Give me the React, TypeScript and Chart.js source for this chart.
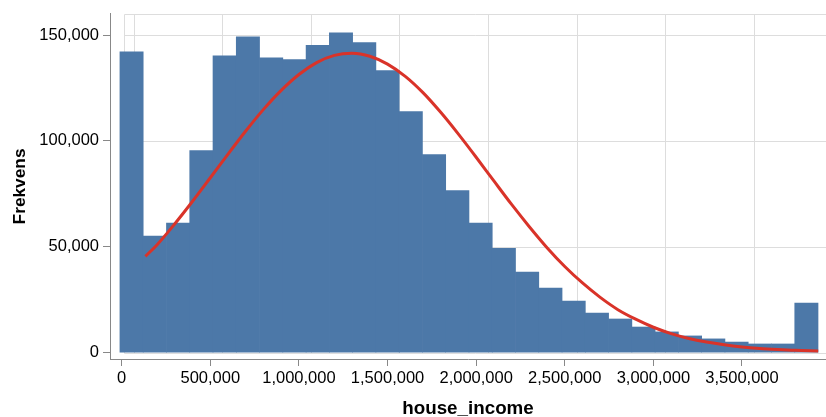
import React, { useEffect, useRef } from "react";
import { Chart, registerables } from "chart.js";

Chart.register(...registerables);

// Histogram bin edges (house_income) and counts (Frekvens)
const BIN_EDGES = [
  -10000, 121300, 252600, 383900, 515200, 646500, 777800, 909100, 1040400,
  1171700, 1303000, 1434300, 1565600, 1696900, 1828200, 1959500, 2090800,
  2222100, 2353400, 2484700, 2616000, 2747300, 2878600, 3009900, 3141200,
  3272500, 3403800, 3535100, 3666400, 3797700, 3929000,
];
const COUNTS = [
  142100, 55000, 61200, 95500, 140200, 149200, 139300, 138400, 145100, 151100,
  146400, 133200, 113900, 93600, 76600, 61200, 49300, 38000, 30500, 24400,
  18700, 15900, 12100, 9800, 7900, 6500, 5000, 4100, 4100, 23400,
];

// Fitted normal curve
const CURVE_X = [
  134000, 200000, 300000, 400000, 500000, 600000, 700000, 800000, 900000,
  1000000, 1100000, 1200000, 1300000, 1400000, 1500000, 1600000, 1700000,
  1800000, 1900000, 2000000, 2100000, 2200000, 2300000, 2400000, 2500000,
  2600000, 2700000, 2800000, 2900000, 3000000, 3100000, 3200000, 3300000,
  3400000, 3500000, 3600000, 3700000, 3800000, 3930000,
];
const CURVE_Y = [
  45500, 51000, 60900, 71500, 82600, 93800, 104700, 114900, 123900, 131400,
  137000, 140400, 141400, 140000, 136300, 130500, 122800, 113500, 103200,
  92300, 81100, 70000, 59500, 49600, 40700, 32900, 26100, 20300, 15800, 12000,
  9000, 6700, 5000, 3700, 2700, 2000, 1500, 1100, 800,
];

const X_TICKS = [0, 500000, 1000000, 1500000, 2000000, 2500000, 3000000, 3500000];
const Y_TICKS = [0, 50000, 100000, 150000];

const X_TITLE = "house_income";
const Y_TITLE = "Frekvens";

const BAR_COLOR = "#4c78a8";
const LINE_COLOR = "#d93329";
const AXIS_COLOR = "#888888";
const GRID_COLOR = "#dddddd";
const FONT = "'Liberation Sans', Arial, sans-serif";

// grid of the reference is drawn shifted relative to the axis
const GRID_SHIFT = 67000;
const GRID_LEFT = 14700;

const offsetGrid = {
  id: "offsetGrid",
  beforeDatasetsDraw(chart: any) {
    const { ctx, chartArea, scales } = chart;
    const x = scales.x;
    const y = scales.y;
    const left = Math.round(x.getPixelForValue(GRID_LEFT)) + 0.5;
    const top = Math.round(y.getPixelForValue(160000)) + 0.5;
    const bottom = Math.round(y.getPixelForValue(0)) + 0.5;
    ctx.save();
    ctx.strokeStyle = GRID_COLOR;
    ctx.lineWidth = 1;
    ctx.beginPath();
    [...Y_TICKS, 160000].forEach((v) => {
      const py = Math.round(y.getPixelForValue(v)) + 0.5;
      ctx.moveTo(left, py);
      ctx.lineTo(chartArea.right, py);
    });
    const xs = [left, ...X_TICKS.map((v) => Math.round(x.getPixelForValue(v + GRID_SHIFT)) + 0.5)];
    xs.forEach((px) => {
      ctx.moveTo(px, top);
      ctx.lineTo(px, bottom);
    });
    ctx.stroke();
    ctx.restore();
  },
};

export default function App() {
  const ref = useRef<HTMLCanvasElement | null>(null);

  useEffect(() => {
    document.body.style.margin = "0";
    if (!ref.current) return;
    const barData = COUNTS.map((c, i) => ({
      x: (BIN_EDGES[i] + BIN_EDGES[i + 1]) / 2,
      y: c,
    }));
    const lineData = CURVE_X.map((x, i) => ({ x, y: CURVE_Y[i] }));

    const chart = new Chart(ref.current, {
      type: "bar",
      data: {
        datasets: [
          {
            type: "line",
            data: lineData,
            borderColor: LINE_COLOR,
            borderWidth: 3,
            pointRadius: 0,
            cubicInterpolationMode: "monotone",
            fill: false,
            order: 0,
          } as any,
          {
            type: "bar",
            data: barData,
            backgroundColor: BAR_COLOR,
            borderWidth: 0,
            barPercentage: 1,
            categoryPercentage: 1,
            order: 1,
          } as any,
        ],
      },
      options: {
        animation: false,
        responsive: true,
        maintainAspectRatio: false,
        layout: { padding: { top: 13, left: 0, right: 0, bottom: 0 } },
        plugins: {
          legend: { display: false },
          tooltip: { enabled: false },
        },
        scales: {
          x: {
            type: "linear",
            min: -66000,
            max: 3974000,
            offset: false,
            afterBuildTicks: (s: any) => {
              s.ticks = X_TICKS.map((v) => ({ value: v }));
            },
            afterFit: (s: any) => {
              s.height = 58;
            },
            grid: {
              display: true,
              offset: false,
              drawOnChartArea: false,
              drawTicks: true,
              tickLength: 7,
              tickColor: AXIS_COLOR,
            },
            border: { display: true, color: AXIS_COLOR, width: 1 },
            ticks: {
              color: "#000",
              padding: 3,
              maxRotation: 0,
              autoSkip: false,
              font: { family: FONT, size: 16.5 },
              callback: (v: any) => Number(v).toLocaleString("en-US"),
            },
            title: {
              display: true,
              text: X_TITLE,
              color: "#000",
              font: { family: FONT, size: 18.8, weight: "bold", lineHeight: 0.9 },
              padding: { top: 0, bottom: 0 },
            },
          },
          y: {
            type: "linear",
            min: -3000,
            max: 160000,
            afterBuildTicks: (s: any) => {
              s.ticks = Y_TICKS.map((v) => ({ value: v }));
            },
            afterFit: (s: any) => {
              s.width = 110;
            },
            grid: {
              display: true,
              offset: false,
              drawOnChartArea: false,
              drawTicks: true,
              tickLength: 7,
              tickColor: AXIS_COLOR,
            },
            border: { display: true, color: AXIS_COLOR, width: 1 },
            ticks: {
              color: "#000",
              padding: 4,
              font: { family: FONT, size: 16.5 },
              callback: (v: any) => Number(v).toLocaleString("en-US"),
            },
            title: {
              display: true,
              text: Y_TITLE,
              color: "#000",
              font: { family: FONT, size: 17.3, weight: "bold", lineHeight: 1.2 },
              padding: { top: 10, bottom: 0 },
            },
          },
        },
      },
      plugins: [offsetGrid],
    });
    return () => chart.destroy();
  }, []);

  return (
    <div style={{ width: 826, height: 417, position: "relative" }}>
      <canvas ref={ref} />
    </div>
  );
}
